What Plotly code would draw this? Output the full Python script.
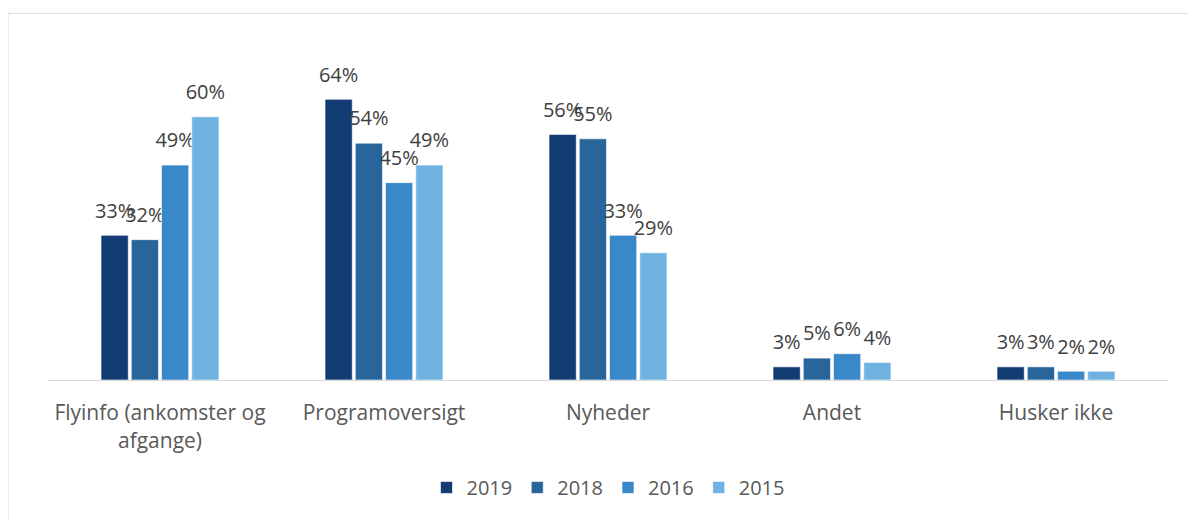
import plotly.graph_objects as go

# Categories and series values (share of respondents)
categories = ['Flyinfo (ankomster og<br>afgange)', 'Programoversigt', 'Nyheder', 'Andet', 'Husker ikke']
years = ['2019', '2018', '2016', '2015']
values = {
    '2019': [33, 64, 56, 3, 3],
    '2018': [32, 54, 55, 5, 3],
    '2016': [49, 45, 33, 6, 2],
    '2015': [60, 49, 29, 4, 2],
}
colors = ['#133B74', '#29659B', '#3A87C9', '#6FB2E1']

fig = go.Figure()
for year, col in zip(years, colors):
    fig.add_trace(go.Bar(
        name=year,
        x=categories,
        y=[v / 100 for v in values[year]],
        # small blank second line lifts the label a bit above the bar
        text=[f'<span style="font-size:20px">{v}%</span><br>&nbsp;' for v in values[year]],
        textposition='outside',
        constraintext='none',
        cliponaxis=False,
        textfont=dict(family='Open Sans', size=9, color='#404040'),
        marker=dict(color=col, line=dict(color='rgba(255,255,255,0.6)', width=1)),
    ))

# Layout: grouped bars, hidden value axis, legend at the bottom
fig.update_layout(
    width=1188,
    height=511,
    barmode='group',
    bargap=0.46,
    bargroupgap=0.1,
    plot_bgcolor='white',
    paper_bgcolor='white',
    margin=dict(l=40, r=28, t=65, b=137),
    font=dict(family='Open Sans', size=20, color='#595959'),
    xaxis=dict(
        showline=True,
        linecolor='#D9D9D9',
        linewidth=1,
        ticks='',
        ticklabelstandoff=14,
        automargin=False,
        tickfont=dict(size=21, color='#595959'),
    ),
    yaxis=dict(
        range=[0, 0.70],
        visible=False,
        showgrid=False,
        automargin=False,
    ),
    legend=dict(
        orientation='h',
        x=0.5,
        xanchor='center',
        y=-0.35,
        yanchor='middle',
        font=dict(size=20, color='#595959'),
        itemwidth=30,
    ),
    shapes=[dict(
        type='rect', xref='paper', yref='paper',
        x0=-40 / 1120, x1=1.1, y0=-0.6, y1=1 + 60 / 309,
        line=dict(color='#D9D9D9', width=1),
    )],
)

fig.write_html("out.html")
